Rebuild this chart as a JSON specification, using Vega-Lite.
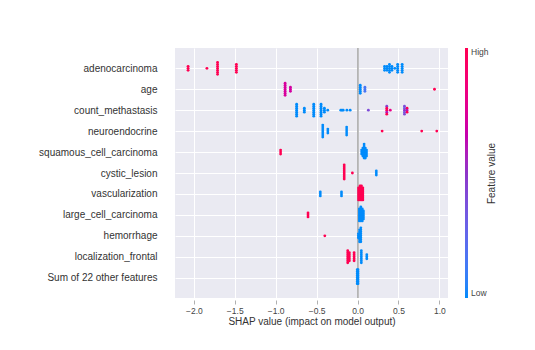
{
  "$schema": "https://vega.github.io/schema/vega-lite/v6.json",
  "width": 273,
  "height": 250,
  "autosize": {"type": "none"},
  "padding": {"left": 175, "top": 48, "right": 87, "bottom": 52},
  "background": "white",
  "config": {
    "font": "Liberation Sans",
    "view": {"fill": "#eaeaf2", "stroke": null}
  },
  "data": {"values": [
    {"feature": "adenocarcinoma", "shap": -2.07, "value": 1, "lane": -1},
    {"feature": "adenocarcinoma", "shap": -2.07, "value": 1, "lane": 0},
    {"feature": "adenocarcinoma", "shap": -2.07, "value": 1, "lane": 1},
    {"feature": "adenocarcinoma", "shap": -1.84, "value": 1, "lane": 0},
    {"feature": "adenocarcinoma", "shap": -1.71, "value": 1, "lane": -3},
    {"feature": "adenocarcinoma", "shap": -1.71, "value": 1, "lane": -2},
    {"feature": "adenocarcinoma", "shap": -1.71, "value": 1, "lane": -1},
    {"feature": "adenocarcinoma", "shap": -1.71, "value": 1, "lane": 0},
    {"feature": "adenocarcinoma", "shap": -1.71, "value": 1, "lane": 1},
    {"feature": "adenocarcinoma", "shap": -1.71, "value": 1, "lane": 2},
    {"feature": "adenocarcinoma", "shap": -1.71, "value": 1, "lane": 3},
    {"feature": "adenocarcinoma", "shap": -1.48, "value": 1, "lane": -2},
    {"feature": "adenocarcinoma", "shap": -1.48, "value": 1, "lane": -1},
    {"feature": "adenocarcinoma", "shap": -1.48, "value": 1, "lane": 0},
    {"feature": "adenocarcinoma", "shap": -1.48, "value": 1, "lane": 1},
    {"feature": "adenocarcinoma", "shap": -1.48, "value": 1, "lane": 2},
    {"feature": "adenocarcinoma", "shap": 0.33, "value": 0, "lane": -1},
    {"feature": "adenocarcinoma", "shap": 0.33, "value": 0, "lane": 0},
    {"feature": "adenocarcinoma", "shap": 0.33, "value": 0, "lane": 1},
    {"feature": "adenocarcinoma", "shap": 0.36, "value": 0, "lane": -1},
    {"feature": "adenocarcinoma", "shap": 0.36, "value": 0, "lane": 0},
    {"feature": "adenocarcinoma", "shap": 0.36, "value": 0, "lane": 1},
    {"feature": "adenocarcinoma", "shap": 0.39, "value": 0, "lane": -2},
    {"feature": "adenocarcinoma", "shap": 0.39, "value": 0, "lane": -1},
    {"feature": "adenocarcinoma", "shap": 0.39, "value": 0, "lane": 0},
    {"feature": "adenocarcinoma", "shap": 0.39, "value": 0, "lane": 1},
    {"feature": "adenocarcinoma", "shap": 0.39, "value": 0, "lane": 2},
    {"feature": "adenocarcinoma", "shap": 0.42, "value": 0, "lane": -1},
    {"feature": "adenocarcinoma", "shap": 0.42, "value": 0, "lane": 0},
    {"feature": "adenocarcinoma", "shap": 0.42, "value": 0, "lane": 1},
    {"feature": "adenocarcinoma", "shap": 0.455, "value": 0, "lane": 0},
    {"feature": "adenocarcinoma", "shap": 0.49, "value": 0, "lane": -2},
    {"feature": "adenocarcinoma", "shap": 0.49, "value": 0, "lane": -1},
    {"feature": "adenocarcinoma", "shap": 0.49, "value": 0, "lane": 0},
    {"feature": "adenocarcinoma", "shap": 0.49, "value": 0, "lane": 1},
    {"feature": "adenocarcinoma", "shap": 0.49, "value": 0, "lane": 2},
    {"feature": "adenocarcinoma", "shap": 0.545, "value": 0, "lane": -2},
    {"feature": "adenocarcinoma", "shap": 0.545, "value": 0, "lane": -1},
    {"feature": "adenocarcinoma", "shap": 0.545, "value": 0, "lane": 0},
    {"feature": "adenocarcinoma", "shap": 0.545, "value": 0, "lane": 1},
    {"feature": "adenocarcinoma", "shap": 0.545, "value": 0, "lane": 2},

    {"feature": "age", "shap": -0.885, "value": 0.72, "lane": -3},
    {"feature": "age", "shap": -0.885, "value": 0.72, "lane": -2},
    {"feature": "age", "shap": -0.885, "value": 0.72, "lane": -1},
    {"feature": "age", "shap": -0.885, "value": 0.72, "lane": 0},
    {"feature": "age", "shap": -0.885, "value": 0.72, "lane": 1},
    {"feature": "age", "shap": -0.885, "value": 0.72, "lane": 2},
    {"feature": "age", "shap": -0.885, "value": 0.72, "lane": 3},
    {"feature": "age", "shap": -0.82, "value": 0.7, "lane": -1},
    {"feature": "age", "shap": -0.82, "value": 0.7, "lane": 0},
    {"feature": "age", "shap": -0.82, "value": 0.7, "lane": 1},
    {"feature": "age", "shap": 0.033, "value": 0, "lane": -2},
    {"feature": "age", "shap": 0.033, "value": 0, "lane": -1},
    {"feature": "age", "shap": 0.033, "value": 0, "lane": 0},
    {"feature": "age", "shap": 0.033, "value": 0, "lane": 1},
    {"feature": "age", "shap": 0.033, "value": 0, "lane": 2},
    {"feature": "age", "shap": 0.09, "value": 0.15, "lane": -1},
    {"feature": "age", "shap": 0.09, "value": 0.15, "lane": 0},
    {"feature": "age", "shap": 0.09, "value": 0.15, "lane": 1},
    {"feature": "age", "shap": 0.94, "value": 1, "lane": 0},

    {"feature": "count_methastasis", "shap": -0.744, "value": 0, "lane": -3},
    {"feature": "count_methastasis", "shap": -0.744, "value": 0, "lane": -2},
    {"feature": "count_methastasis", "shap": -0.744, "value": 0, "lane": -1},
    {"feature": "count_methastasis", "shap": -0.744, "value": 0, "lane": 0},
    {"feature": "count_methastasis", "shap": -0.744, "value": 0, "lane": 1},
    {"feature": "count_methastasis", "shap": -0.744, "value": 0, "lane": 2},
    {"feature": "count_methastasis", "shap": -0.744, "value": 0, "lane": 3},
    {"feature": "count_methastasis", "shap": -0.65, "value": 0, "lane": -1},
    {"feature": "count_methastasis", "shap": -0.65, "value": 0, "lane": 0},
    {"feature": "count_methastasis", "shap": -0.65, "value": 0, "lane": 1},
    {"feature": "count_methastasis", "shap": -0.535, "value": 0, "lane": -3},
    {"feature": "count_methastasis", "shap": -0.535, "value": 0, "lane": -2},
    {"feature": "count_methastasis", "shap": -0.535, "value": 0, "lane": -1},
    {"feature": "count_methastasis", "shap": -0.535, "value": 0, "lane": 0},
    {"feature": "count_methastasis", "shap": -0.535, "value": 0, "lane": 1},
    {"feature": "count_methastasis", "shap": -0.535, "value": 0, "lane": 2},
    {"feature": "count_methastasis", "shap": -0.535, "value": 0, "lane": 3},
    {"feature": "count_methastasis", "shap": -0.446, "value": 0, "lane": -3},
    {"feature": "count_methastasis", "shap": -0.446, "value": 0, "lane": -2},
    {"feature": "count_methastasis", "shap": -0.446, "value": 0, "lane": -1},
    {"feature": "count_methastasis", "shap": -0.446, "value": 0, "lane": 0},
    {"feature": "count_methastasis", "shap": -0.446, "value": 0, "lane": 1},
    {"feature": "count_methastasis", "shap": -0.446, "value": 0, "lane": 2},
    {"feature": "count_methastasis", "shap": -0.446, "value": 0, "lane": 3},
    {"feature": "count_methastasis", "shap": -0.405, "value": 0, "lane": -1},
    {"feature": "count_methastasis", "shap": -0.405, "value": 0, "lane": 0},
    {"feature": "count_methastasis", "shap": -0.405, "value": 0, "lane": 1},
    {"feature": "count_methastasis", "shap": -0.364, "value": 0, "lane": 0},
    {"feature": "count_methastasis", "shap": -0.205, "value": 0, "lane": 0},
    {"feature": "count_methastasis", "shap": -0.19, "value": 0, "lane": 0},
    {"feature": "count_methastasis", "shap": -0.175, "value": 0, "lane": 0},
    {"feature": "count_methastasis", "shap": -0.13, "value": 0, "lane": 0},
    {"feature": "count_methastasis", "shap": -0.09, "value": 0, "lane": 0},
    {"feature": "count_methastasis", "shap": 0.132, "value": 0.4, "lane": 0},
    {"feature": "count_methastasis", "shap": 0.357, "value": 0.45, "lane": -2},
    {"feature": "count_methastasis", "shap": 0.357, "value": 1, "lane": -1},
    {"feature": "count_methastasis", "shap": 0.357, "value": 1, "lane": 0},
    {"feature": "count_methastasis", "shap": 0.357, "value": 0.6, "lane": 1},
    {"feature": "count_methastasis", "shap": 0.357, "value": 1, "lane": 2},
    {"feature": "count_methastasis", "shap": 0.4, "value": 0.8, "lane": 0},
    {"feature": "count_methastasis", "shap": 0.573, "value": 0.4, "lane": -2},
    {"feature": "count_methastasis", "shap": 0.573, "value": 0.3, "lane": -1},
    {"feature": "count_methastasis", "shap": 0.573, "value": 0.5, "lane": 0},
    {"feature": "count_methastasis", "shap": 0.573, "value": 0.35, "lane": 1},
    {"feature": "count_methastasis", "shap": 0.573, "value": 0.4, "lane": 2},
    {"feature": "count_methastasis", "shap": 0.605, "value": 1, "lane": -1},
    {"feature": "count_methastasis", "shap": 0.605, "value": 0.6, "lane": 0},
    {"feature": "count_methastasis", "shap": 0.605, "value": 1, "lane": 1},

    {"feature": "neuroendocrine", "shap": -0.425, "value": 0, "lane": -3},
    {"feature": "neuroendocrine", "shap": -0.425, "value": 0, "lane": -2},
    {"feature": "neuroendocrine", "shap": -0.425, "value": 0, "lane": -1},
    {"feature": "neuroendocrine", "shap": -0.425, "value": 0, "lane": 0},
    {"feature": "neuroendocrine", "shap": -0.425, "value": 0, "lane": 1},
    {"feature": "neuroendocrine", "shap": -0.425, "value": 0, "lane": 2},
    {"feature": "neuroendocrine", "shap": -0.425, "value": 0, "lane": 3},
    {"feature": "neuroendocrine", "shap": -0.363, "value": 0, "lane": -1},
    {"feature": "neuroendocrine", "shap": -0.363, "value": 0, "lane": 0},
    {"feature": "neuroendocrine", "shap": -0.363, "value": 0, "lane": 1},
    {"feature": "neuroendocrine", "shap": -0.133, "value": 0, "lane": -2},
    {"feature": "neuroendocrine", "shap": -0.133, "value": 0, "lane": -1},
    {"feature": "neuroendocrine", "shap": -0.133, "value": 0, "lane": 0},
    {"feature": "neuroendocrine", "shap": -0.133, "value": 0, "lane": 1},
    {"feature": "neuroendocrine", "shap": -0.133, "value": 0, "lane": 2},
    {"feature": "neuroendocrine", "shap": 0.3, "value": 1, "lane": 0},
    {"feature": "neuroendocrine", "shap": 0.784, "value": 1, "lane": 0},
    {"feature": "neuroendocrine", "shap": 0.968, "value": 1, "lane": 0},

    {"feature": "squamous_cell_carcinoma", "shap": -0.94, "value": 1, "lane": -1},
    {"feature": "squamous_cell_carcinoma", "shap": -0.94, "value": 1, "lane": 0},
    {"feature": "squamous_cell_carcinoma", "shap": -0.94, "value": 1, "lane": 1},
    {"feature": "squamous_cell_carcinoma", "shap": 0.05, "value": 0, "lane": -1},
    {"feature": "squamous_cell_carcinoma", "shap": 0.05, "value": 0, "lane": 0},
    {"feature": "squamous_cell_carcinoma", "shap": 0.05, "value": 0, "lane": 1},
    {"feature": "squamous_cell_carcinoma", "shap": 0.065, "value": 0, "lane": -2},
    {"feature": "squamous_cell_carcinoma", "shap": 0.065, "value": 0, "lane": -1},
    {"feature": "squamous_cell_carcinoma", "shap": 0.065, "value": 0, "lane": 0},
    {"feature": "squamous_cell_carcinoma", "shap": 0.065, "value": 0, "lane": 1},
    {"feature": "squamous_cell_carcinoma", "shap": 0.065, "value": 0, "lane": 2},
    {"feature": "squamous_cell_carcinoma", "shap": 0.08, "value": 0, "lane": -4},
    {"feature": "squamous_cell_carcinoma", "shap": 0.08, "value": 0, "lane": -3},
    {"feature": "squamous_cell_carcinoma", "shap": 0.08, "value": 0, "lane": -2},
    {"feature": "squamous_cell_carcinoma", "shap": 0.08, "value": 0, "lane": -1},
    {"feature": "squamous_cell_carcinoma", "shap": 0.08, "value": 0, "lane": 0},
    {"feature": "squamous_cell_carcinoma", "shap": 0.08, "value": 0, "lane": 1},
    {"feature": "squamous_cell_carcinoma", "shap": 0.08, "value": 0, "lane": 2},
    {"feature": "squamous_cell_carcinoma", "shap": 0.08, "value": 0, "lane": 3},
    {"feature": "squamous_cell_carcinoma", "shap": 0.095, "value": 0, "lane": -2},
    {"feature": "squamous_cell_carcinoma", "shap": 0.095, "value": 0, "lane": -1},
    {"feature": "squamous_cell_carcinoma", "shap": 0.095, "value": 0, "lane": 0},
    {"feature": "squamous_cell_carcinoma", "shap": 0.095, "value": 0, "lane": 1},
    {"feature": "squamous_cell_carcinoma", "shap": 0.095, "value": 0, "lane": 2},
    {"feature": "squamous_cell_carcinoma", "shap": 0.095, "value": 0, "lane": 3},
    {"feature": "squamous_cell_carcinoma", "shap": 0.11, "value": 0, "lane": -1},
    {"feature": "squamous_cell_carcinoma", "shap": 0.11, "value": 0, "lane": 0},
    {"feature": "squamous_cell_carcinoma", "shap": 0.11, "value": 0, "lane": 1},
    {"feature": "squamous_cell_carcinoma", "shap": 0.11, "value": 0, "lane": 2},

    {"feature": "cystic_lesion", "shap": -0.163, "value": 1, "lane": -4},
    {"feature": "cystic_lesion", "shap": -0.163, "value": 1, "lane": -3},
    {"feature": "cystic_lesion", "shap": -0.163, "value": 1, "lane": -2},
    {"feature": "cystic_lesion", "shap": -0.163, "value": 1, "lane": -1},
    {"feature": "cystic_lesion", "shap": -0.163, "value": 1, "lane": 0},
    {"feature": "cystic_lesion", "shap": -0.163, "value": 1, "lane": 1},
    {"feature": "cystic_lesion", "shap": -0.163, "value": 1, "lane": 2},
    {"feature": "cystic_lesion", "shap": -0.163, "value": 1, "lane": 3},
    {"feature": "cystic_lesion", "shap": -0.063, "value": 1, "lane": 0},
    {"feature": "cystic_lesion", "shap": 0.229, "value": 0, "lane": -1},
    {"feature": "cystic_lesion", "shap": 0.229, "value": 0, "lane": 0},
    {"feature": "cystic_lesion", "shap": 0.229, "value": 0, "lane": 1},

    {"feature": "vascularization", "shap": -0.455, "value": 0, "lane": -1},
    {"feature": "vascularization", "shap": -0.455, "value": 0, "lane": 0},
    {"feature": "vascularization", "shap": -0.455, "value": 0, "lane": 1},
    {"feature": "vascularization", "shap": -0.196, "value": 0, "lane": -1},
    {"feature": "vascularization", "shap": -0.196, "value": 0, "lane": 0},
    {"feature": "vascularization", "shap": -0.196, "value": 0, "lane": 1},
    {"feature": "vascularization", "shap": 0.012, "value": 1, "lane": -3},
    {"feature": "vascularization", "shap": 0.012, "value": 1, "lane": -2},
    {"feature": "vascularization", "shap": 0.012, "value": 1, "lane": -1},
    {"feature": "vascularization", "shap": 0.012, "value": 1, "lane": 0},
    {"feature": "vascularization", "shap": 0.012, "value": 1, "lane": 1},
    {"feature": "vascularization", "shap": 0.012, "value": 1, "lane": 2},
    {"feature": "vascularization", "shap": 0.012, "value": 1, "lane": 3},
    {"feature": "vascularization", "shap": 0.03, "value": 1, "lane": -4},
    {"feature": "vascularization", "shap": 0.03, "value": 1, "lane": -3},
    {"feature": "vascularization", "shap": 0.03, "value": 1, "lane": -2},
    {"feature": "vascularization", "shap": 0.03, "value": 1, "lane": -1},
    {"feature": "vascularization", "shap": 0.03, "value": 1, "lane": 0},
    {"feature": "vascularization", "shap": 0.03, "value": 1, "lane": 1},
    {"feature": "vascularization", "shap": 0.03, "value": 1, "lane": 2},
    {"feature": "vascularization", "shap": 0.03, "value": 1, "lane": 3},
    {"feature": "vascularization", "shap": 0.048, "value": 1, "lane": -4},
    {"feature": "vascularization", "shap": 0.048, "value": 1, "lane": -3},
    {"feature": "vascularization", "shap": 0.048, "value": 1, "lane": -2},
    {"feature": "vascularization", "shap": 0.048, "value": 1, "lane": -1},
    {"feature": "vascularization", "shap": 0.048, "value": 1, "lane": 0},
    {"feature": "vascularization", "shap": 0.048, "value": 1, "lane": 1},
    {"feature": "vascularization", "shap": 0.048, "value": 1, "lane": 2},
    {"feature": "vascularization", "shap": 0.048, "value": 1, "lane": 3},
    {"feature": "vascularization", "shap": 0.065, "value": 1, "lane": -3},
    {"feature": "vascularization", "shap": 0.065, "value": 1, "lane": -2},
    {"feature": "vascularization", "shap": 0.065, "value": 1, "lane": -1},
    {"feature": "vascularization", "shap": 0.065, "value": 1, "lane": 0},
    {"feature": "vascularization", "shap": 0.065, "value": 1, "lane": 1},
    {"feature": "vascularization", "shap": 0.065, "value": 1, "lane": 2},
    {"feature": "vascularization", "shap": 0.065, "value": 1, "lane": 3},

    {"feature": "large_cell_carcinoma", "shap": -0.605, "value": 1, "lane": -1},
    {"feature": "large_cell_carcinoma", "shap": -0.605, "value": 1, "lane": 0},
    {"feature": "large_cell_carcinoma", "shap": -0.605, "value": 1, "lane": 1},
    {"feature": "large_cell_carcinoma", "shap": 0.022, "value": 0, "lane": -3},
    {"feature": "large_cell_carcinoma", "shap": 0.022, "value": 0, "lane": -2},
    {"feature": "large_cell_carcinoma", "shap": 0.022, "value": 0, "lane": -1},
    {"feature": "large_cell_carcinoma", "shap": 0.022, "value": 0, "lane": 0},
    {"feature": "large_cell_carcinoma", "shap": 0.022, "value": 0, "lane": 1},
    {"feature": "large_cell_carcinoma", "shap": 0.022, "value": 0, "lane": 2},
    {"feature": "large_cell_carcinoma", "shap": 0.022, "value": 0, "lane": 3},
    {"feature": "large_cell_carcinoma", "shap": 0.04, "value": 0, "lane": -4},
    {"feature": "large_cell_carcinoma", "shap": 0.04, "value": 0, "lane": -3},
    {"feature": "large_cell_carcinoma", "shap": 0.04, "value": 0, "lane": -2},
    {"feature": "large_cell_carcinoma", "shap": 0.04, "value": 0, "lane": -1},
    {"feature": "large_cell_carcinoma", "shap": 0.04, "value": 0, "lane": 0},
    {"feature": "large_cell_carcinoma", "shap": 0.04, "value": 0, "lane": 1},
    {"feature": "large_cell_carcinoma", "shap": 0.04, "value": 0, "lane": 2},
    {"feature": "large_cell_carcinoma", "shap": 0.04, "value": 0, "lane": 3},
    {"feature": "large_cell_carcinoma", "shap": 0.058, "value": 0, "lane": -3},
    {"feature": "large_cell_carcinoma", "shap": 0.058, "value": 0, "lane": -2},
    {"feature": "large_cell_carcinoma", "shap": 0.058, "value": 0, "lane": -1},
    {"feature": "large_cell_carcinoma", "shap": 0.058, "value": 0, "lane": 0},
    {"feature": "large_cell_carcinoma", "shap": 0.058, "value": 0, "lane": 1},
    {"feature": "large_cell_carcinoma", "shap": 0.058, "value": 0, "lane": 2},
    {"feature": "large_cell_carcinoma", "shap": 0.058, "value": 0, "lane": 3},
    {"feature": "large_cell_carcinoma", "shap": 0.072, "value": 0, "lane": -2},
    {"feature": "large_cell_carcinoma", "shap": 0.072, "value": 0, "lane": -1},
    {"feature": "large_cell_carcinoma", "shap": 0.072, "value": 0, "lane": 0},
    {"feature": "large_cell_carcinoma", "shap": 0.072, "value": 0, "lane": 1},
    {"feature": "large_cell_carcinoma", "shap": 0.072, "value": 0, "lane": 2},

    {"feature": "hemorrhage", "shap": -0.4, "value": 1, "lane": 0},
    {"feature": "hemorrhage", "shap": 0.01, "value": 0, "lane": -1},
    {"feature": "hemorrhage", "shap": 0.01, "value": 0, "lane": 0},
    {"feature": "hemorrhage", "shap": 0.01, "value": 0, "lane": 1},
    {"feature": "hemorrhage", "shap": 0.025, "value": 0, "lane": -3},
    {"feature": "hemorrhage", "shap": 0.025, "value": 0, "lane": -2},
    {"feature": "hemorrhage", "shap": 0.025, "value": 0, "lane": -1},
    {"feature": "hemorrhage", "shap": 0.025, "value": 0, "lane": 0},
    {"feature": "hemorrhage", "shap": 0.025, "value": 0, "lane": 1},
    {"feature": "hemorrhage", "shap": 0.025, "value": 0, "lane": 2},
    {"feature": "hemorrhage", "shap": 0.025, "value": 0, "lane": 3},
    {"feature": "hemorrhage", "shap": 0.04, "value": 0, "lane": -4},
    {"feature": "hemorrhage", "shap": 0.04, "value": 0, "lane": -3},
    {"feature": "hemorrhage", "shap": 0.04, "value": 0, "lane": -2},
    {"feature": "hemorrhage", "shap": 0.04, "value": 0, "lane": -1},
    {"feature": "hemorrhage", "shap": 0.04, "value": 0, "lane": 0},
    {"feature": "hemorrhage", "shap": 0.04, "value": 0, "lane": 1},
    {"feature": "hemorrhage", "shap": 0.04, "value": 0, "lane": 2},
    {"feature": "hemorrhage", "shap": 0.04, "value": 0, "lane": 3},

    {"feature": "localization_frontal", "shap": -0.12, "value": 1, "lane": -3},
    {"feature": "localization_frontal", "shap": -0.12, "value": 1, "lane": -2},
    {"feature": "localization_frontal", "shap": -0.12, "value": 1, "lane": -1},
    {"feature": "localization_frontal", "shap": -0.12, "value": 1, "lane": 0},
    {"feature": "localization_frontal", "shap": -0.12, "value": 1, "lane": 1},
    {"feature": "localization_frontal", "shap": -0.12, "value": 1, "lane": 2},
    {"feature": "localization_frontal", "shap": -0.12, "value": 1, "lane": 3},
    {"feature": "localization_frontal", "shap": -0.1, "value": 1, "lane": -2},
    {"feature": "localization_frontal", "shap": -0.1, "value": 1, "lane": -1},
    {"feature": "localization_frontal", "shap": -0.1, "value": 1, "lane": 0},
    {"feature": "localization_frontal", "shap": -0.1, "value": 1, "lane": 1},
    {"feature": "localization_frontal", "shap": -0.1, "value": 1, "lane": 2},
    {"feature": "localization_frontal", "shap": -0.042, "value": 1, "lane": -2},
    {"feature": "localization_frontal", "shap": -0.042, "value": 1, "lane": -1},
    {"feature": "localization_frontal", "shap": -0.042, "value": 1, "lane": 0},
    {"feature": "localization_frontal", "shap": -0.042, "value": 1, "lane": 1},
    {"feature": "localization_frontal", "shap": -0.042, "value": 1, "lane": 2},
    {"feature": "localization_frontal", "shap": 0.046, "value": 0, "lane": -3},
    {"feature": "localization_frontal", "shap": 0.046, "value": 0, "lane": -2},
    {"feature": "localization_frontal", "shap": 0.046, "value": 0, "lane": -1},
    {"feature": "localization_frontal", "shap": 0.046, "value": 0, "lane": 0},
    {"feature": "localization_frontal", "shap": 0.046, "value": 0, "lane": 1},
    {"feature": "localization_frontal", "shap": 0.046, "value": 0, "lane": 2},
    {"feature": "localization_frontal", "shap": 0.046, "value": 0, "lane": 3},
    {"feature": "localization_frontal", "shap": 0.113, "value": 0, "lane": -1},
    {"feature": "localization_frontal", "shap": 0.113, "value": 0, "lane": 0},
    {"feature": "localization_frontal", "shap": 0.113, "value": 0, "lane": 1},

    {"feature": "Sum of 22 other features", "shap": -0.004, "value": 0, "lane": -4},
    {"feature": "Sum of 22 other features", "shap": -0.004, "value": 0, "lane": -3},
    {"feature": "Sum of 22 other features", "shap": -0.004, "value": 0, "lane": -2},
    {"feature": "Sum of 22 other features", "shap": -0.004, "value": 0, "lane": -1},
    {"feature": "Sum of 22 other features", "shap": -0.004, "value": 0, "lane": 0},
    {"feature": "Sum of 22 other features", "shap": -0.004, "value": 0, "lane": 1},
    {"feature": "Sum of 22 other features", "shap": -0.004, "value": 0, "lane": 2},
    {"feature": "Sum of 22 other features", "shap": -0.004, "value": 0, "lane": 3},
    {"feature": "Sum of 22 other features", "shap": 0.006, "value": 0, "lane": -4},
    {"feature": "Sum of 22 other features", "shap": 0.006, "value": 0, "lane": -3},
    {"feature": "Sum of 22 other features", "shap": 0.006, "value": 0, "lane": -2},
    {"feature": "Sum of 22 other features", "shap": 0.006, "value": 0, "lane": -1},
    {"feature": "Sum of 22 other features", "shap": 0.006, "value": 0, "lane": 0},
    {"feature": "Sum of 22 other features", "shap": 0.006, "value": 0, "lane": 1},
    {"feature": "Sum of 22 other features", "shap": 0.006, "value": 0, "lane": 2},
    {"feature": "Sum of 22 other features", "shap": 0.006, "value": 0, "lane": 3}
  ]},
  "resolve": {"scale": {"y": "independent"}, "axis": {"y": "independent"}},
  "layer": [
    {
      "mark": {"type": "rule", "color": "#b4b4b4", "strokeWidth": 1},
      "encoding": {
        "x": {
          "datum": 0,
          "type": "quantitative",
          "scale": {"domain": [-2.23, 1.105], "nice": false, "zero": false},
          "axis": {
            "title": "SHAP value (impact on model output)",
            "values": [-2, -1.5, -1, -0.5, 0, 0.5, 1],
            "format": ".1f",
            "grid": true, "gridColor": "white", "gridWidth": 1,
            "domain": false,
            "ticks": true, "tickColor": "#b0b0b0", "tickSize": 4,
            "offset": 2,
            "labelFontSize": 8.5, "labelColor": "#444444", "labelPadding": 2,
            "titleFontSize": 10, "titleFontWeight": "normal", "titleColor": "#333333", "titlePadding": 2
          }
        }
      }
    },
    {
      "mark": {"type": "circle", "size": 8, "opacity": 1},
      "encoding": {
        "x": {
          "field": "shap",
          "type": "quantitative",
          "scale": {"domain": [-2.23, 1.105], "nice": false, "zero": false},
          "axis": {
            "title": "SHAP value (impact on model output)",
            "values": [-2, -1.5, -1, -0.5, 0, 0.5, 1],
            "format": ".1f",
            "grid": true, "gridColor": "white", "gridWidth": 1,
            "domain": false,
            "ticks": true, "tickColor": "#b0b0b0", "tickSize": 4,
            "offset": 2,
            "labelFontSize": 8.5, "labelColor": "#444444", "labelPadding": 2,
            "titleFontSize": 10, "titleFontWeight": "normal", "titleColor": "#333333", "titlePadding": 2
          }
        },
        "y": {
          "field": "feature",
          "type": "nominal",
          "sort": ["adenocarcinoma", "age", "count_methastasis", "neuroendocrine", "squamous_cell_carcinoma", "cystic_lesion", "vascularization", "large_cell_carcinoma", "hemorrhage", "localization_frontal", "Sum of 22 other features"],
          "scale": {"type": "point", "padding": 0.97},
          "axis": {
            "title": null,
            "labelFontSize": 10, "labelColor": "#333333", "labelPadding": 18,
            "ticks": false, "domain": false,
            "grid": true, "gridColor": "white", "gridWidth": 1
          }
        },
        "yOffset": {"field": "lane", "type": "quantitative", "scale": {"domain": [-10, 10], "range": [-20, 20]}},
        "color": {
          "field": "value",
          "type": "quantitative",
          "scale": {"domain": [0, 0.5, 1], "range": ["#008bfb", "#8e34c8", "#ff0052"]},
          "legend": {
            "title": null,
            "orient": "none",
            "legendX": 290,
            "legendY": 0,
            "direction": "vertical",
            "gradientLength": 250,
            "gradientThickness": 3,
            "gradientStrokeWidth": 0,
            "values": [0, 1],
            "labelExpr": "datum.value === 1 ? 'High' : 'Low'",
            "labelFontSize": 8.5, "labelColor": "#444444", "labelOffset": 3
          }
        }
      }
    },
    {
      "mark": {"type": "rule", "opacity": 0},
      "encoding": {
        "y": {
          "field": "value",
          "type": "quantitative",
          "axis": {
            "orient": "right",
            "title": "Feature value",
            "titleAngle": 270,
            "titleFontSize": 10, "titleFontWeight": "normal", "titleColor": "#333333",
            "titlePadding": 48,
            "labels": false, "ticks": false, "domain": false, "grid": false
          }
        }
      }
    }
  ]
}
